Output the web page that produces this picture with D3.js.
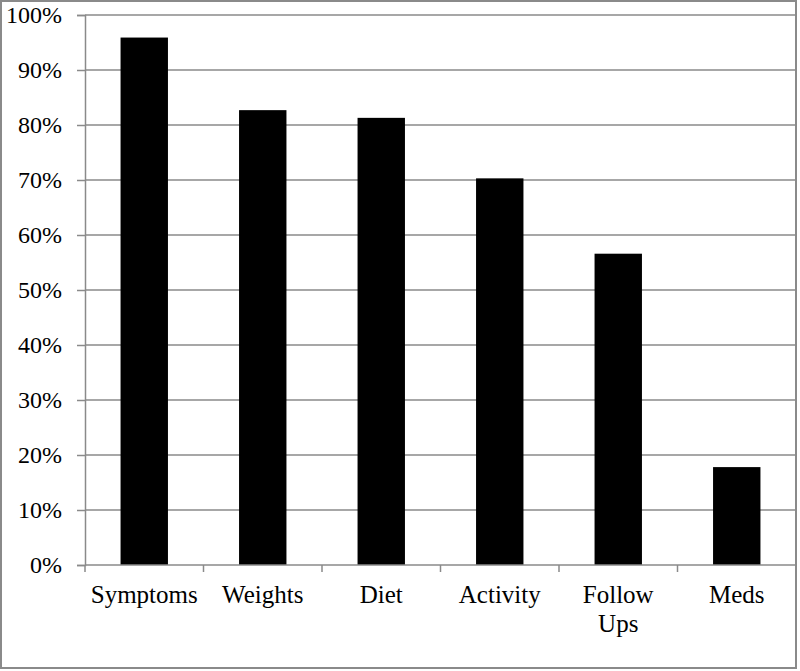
<!DOCTYPE html>
<html>
<head>
<meta charset="utf-8">
<script src="https://cdn.jsdelivr.net/npm/d3@7"></script>
<style>
  body { margin: 0; background: #fff; }
  svg text { font-family: "Liberation Serif", "Times New Roman", serif; fill: #000; }
</style>
</head>
<body>
<script>
const categories = ["Symptoms", "Weights", "Diet", "Activity", "Follow Ups", "Meds"]
const values = [0.959, 0.827, 0.813, 0.703, 0.566, 0.178]
const yTicks = [0, 0.1, 0.2, 0.3, 0.4, 0.5, 0.6, 0.7, 0.8, 0.9, 1.0]

const width = 800
const height = 671
const margin = { top: 15, right: 4, bottom: 106, left: 85 }

const svg = d3.select("body")
  .append("svg")
  .attr("width", width)
  .attr("height", height)

// outer frame
svg.append("rect")
  .attr("x", 1)
  .attr("y", 1)
  .attr("width", 795)
  .attr("height", 667)
  .style("fill", "#fff")
  .style("stroke", "#8a8a8a")
  .style("stroke-width", 2)

const x = d3.scaleBand()
  .domain(categories)
  .range([margin.left, width - margin.right])
  .paddingInner(0.6)
  .paddingOuter(0.3)

const xTicksScale = d3.scaleBand()
  .domain(categories)
  .range([margin.left, width - margin.right])

const y = d3.scaleLinear()
  .domain([0, 1])
  .range([height - margin.bottom, margin.top])

// gridlines
svg.append("g")
  .selectAll("line")
  .data(yTicks.slice(1))
  .join("line")
  .attr("x1", margin.left)
  .attr("x2", width - margin.right)
  .attr("y1", d => y(d))
  .attr("y2", d => y(d))
  .style("stroke", "#8a8a8a")
  .style("stroke-width", 1.5)

// y axis
const yAxis = svg.append("g")
  .attr("transform", `translate(${margin.left},0)`)
  .call(d3.axisLeft(y).tickValues(yTicks).tickFormat(d3.format(".0%")).tickSize(8).tickPadding(15))
yAxis.select(".domain").style("stroke", "#8a8a8a").style("stroke-width", 1.5)
yAxis.selectAll(".tick line").style("stroke", "#8a8a8a").style("stroke-width", 1.5)
yAxis.selectAll("text").style("font-size", "24px")

// bars
svg.append("g")
  .selectAll("rect")
  .data(categories)
  .join("rect")
  .attr("x", (d, i) => x(d))
  .attr("width", x.bandwidth())
  .attr("y", (d, i) => y(values[i]))
  .attr("height", (d, i) => y(0) - y(values[i]))
  .style("fill", "#000")

// x axis
const xAxis = svg.append("g")
  .attr("transform", `translate(0,${y(0)})`)
xAxis.append("line")
  .attr("x1", margin.left)
  .attr("x2", width - margin.right)
  .style("stroke", "#8a8a8a")
  .style("stroke-width", 1.5)
xAxis.selectAll(".tk")
  .data(categories)
  .join("line")
  .attr("class", "tk")
  .attr("x1", d => xTicksScale(d))
  .attr("x2", d => xTicksScale(d))
  .attr("y1", 0)
  .attr("y2", 7)
  .style("stroke", "#8a8a8a")
  .style("stroke-width", 1.5)

xAxis.selectAll(".lbl")
  .data(categories)
  .join("text")
  .attr("class", "lbl")
  .attr("text-anchor", "middle")
  .style("font-size", "25px")
  .each(function (d) {
    const words = d === "Follow Ups" ? ["Follow", "Ups"] : [d]
    d3.select(this).selectAll("tspan")
      .data(words)
      .join("tspan")
      .attr("x", xTicksScale(d) + xTicksScale.bandwidth() / 2)
      .attr("y", (w, i) => 38 + i * 29)
      .text(w => w)
  })
</script>
</body>
</html>
